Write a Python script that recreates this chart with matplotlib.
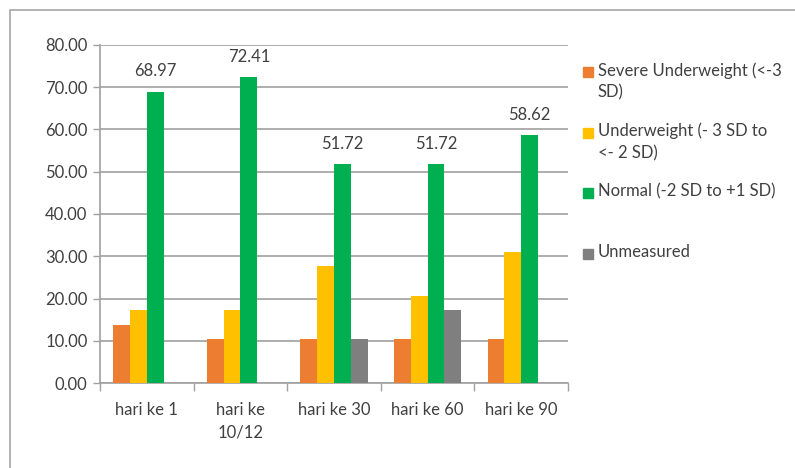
import numpy as np
import matplotlib.pyplot as plt
from matplotlib.patches import Rectangle

plt.rcParams['font.family'] = ['Lato', 'DejaVu Sans']

categories = ['hari ke 1', 'hari ke\n10/12', 'hari ke 30', 'hari ke 60', 'hari ke 90']
severe = [13.79, 10.34, 10.34, 10.34, 10.34]
underweight = [17.24, 17.24, 27.59, 20.69, 31.03]
normal = [68.97, 72.41, 51.72, 51.72, 58.62]
unmeasured = [0.0, 0.0, 10.34, 17.24, 0.0]

series_names = ['Severe Underweight (<-3\nSD)', 'Underweight (- 3 SD to\n<- 2 SD)',
                'Normal (-2 SD to +1 SD)', 'Unmeasured']
colors = ['#ED7D31', '#FFC000', '#00B050', '#7F7F7F']
text_col = '#404040'


def main():
    fig = plt.figure(figsize=(7.95, 4.68), dpi=100)
    W, H = 795.0, 468.0

    # outer chart border (cut off at right and bottom like the screenshot)
    fig.patches.append(Rectangle((10 / W, -0.1), 1.2, 1 - 10 / H + 0.1, transform=fig.transFigure,
                                 fill=False, edgecolor='#A6A6A6', linewidth=1.2))

    ax = fig.add_axes([100 / W, 1 - 383 / H, 468 / W, 338 / H])
    x = np.arange(len(categories))
    width = 0.18
    all_series = [severe, underweight, normal, unmeasured]
    for i, vals in enumerate(all_series):
        offs = (i - 1.5) * width
        bars = ax.bar(x + offs, vals, width, color=colors[i], zorder=3)
        if i == 2:
            for b, v in zip(bars, vals):
                ax.annotate('%.2f' % v, (b.get_x() + b.get_width() / 2, v), xytext=(0, 9),
                            textcoords='offset points', ha='center', va='bottom',
                            fontsize=12, color=text_col)

    ax.set_xlim(-0.5, len(categories) - 0.5)
    ax.set_ylim(0, 80)
    ax.set_yticks(np.arange(0, 81, 10))
    ax.set_yticklabels(['%.2f' % t for t in np.arange(0, 81, 10)])
    ax.set_xticks(x)
    ax.set_xticklabels(categories, linespacing=1.45)
    ax.set_xticks(np.arange(-0.5, len(categories), 1), minor=True)
    ax.tick_params(axis='x', which='major', length=0, pad=14, labelsize=12, labelcolor=text_col)
    ax.tick_params(axis='x', which='minor', length=6, color='#A0A0A0', width=1)
    ax.tick_params(axis='y', length=5, color='#A0A0A0', width=1, labelsize=12, labelcolor=text_col, pad=4)
    ax.grid(axis='y', color='#A0A0A0', linewidth=1.2, zorder=0)
    for s in ['top', 'right']:
        ax.spines[s].set_visible(False)
    for s in ['left', 'bottom']:
        ax.spines[s].set_color('#A0A0A0')
        ax.spines[s].set_linewidth(1.2)

    # legend drawn by hand so the swatch lines up with the first text line
    for i, name in enumerate(series_names):
        yc = 72 + i * 60.7
        fig.patches.append(Rectangle((583 / W, 1 - (yc + 5) / H), 10 / W, 10 / H,
                                     transform=fig.transFigure, color=colors[i]))
        fig.text(598 / W, 1 - (yc - 10) / H, name, ha='left', va='top', fontsize=12,
                 color=text_col, linespacing=1.45)

    fig.savefig('out.png', dpi=100)


if __name__ == '__main__':
    main()
